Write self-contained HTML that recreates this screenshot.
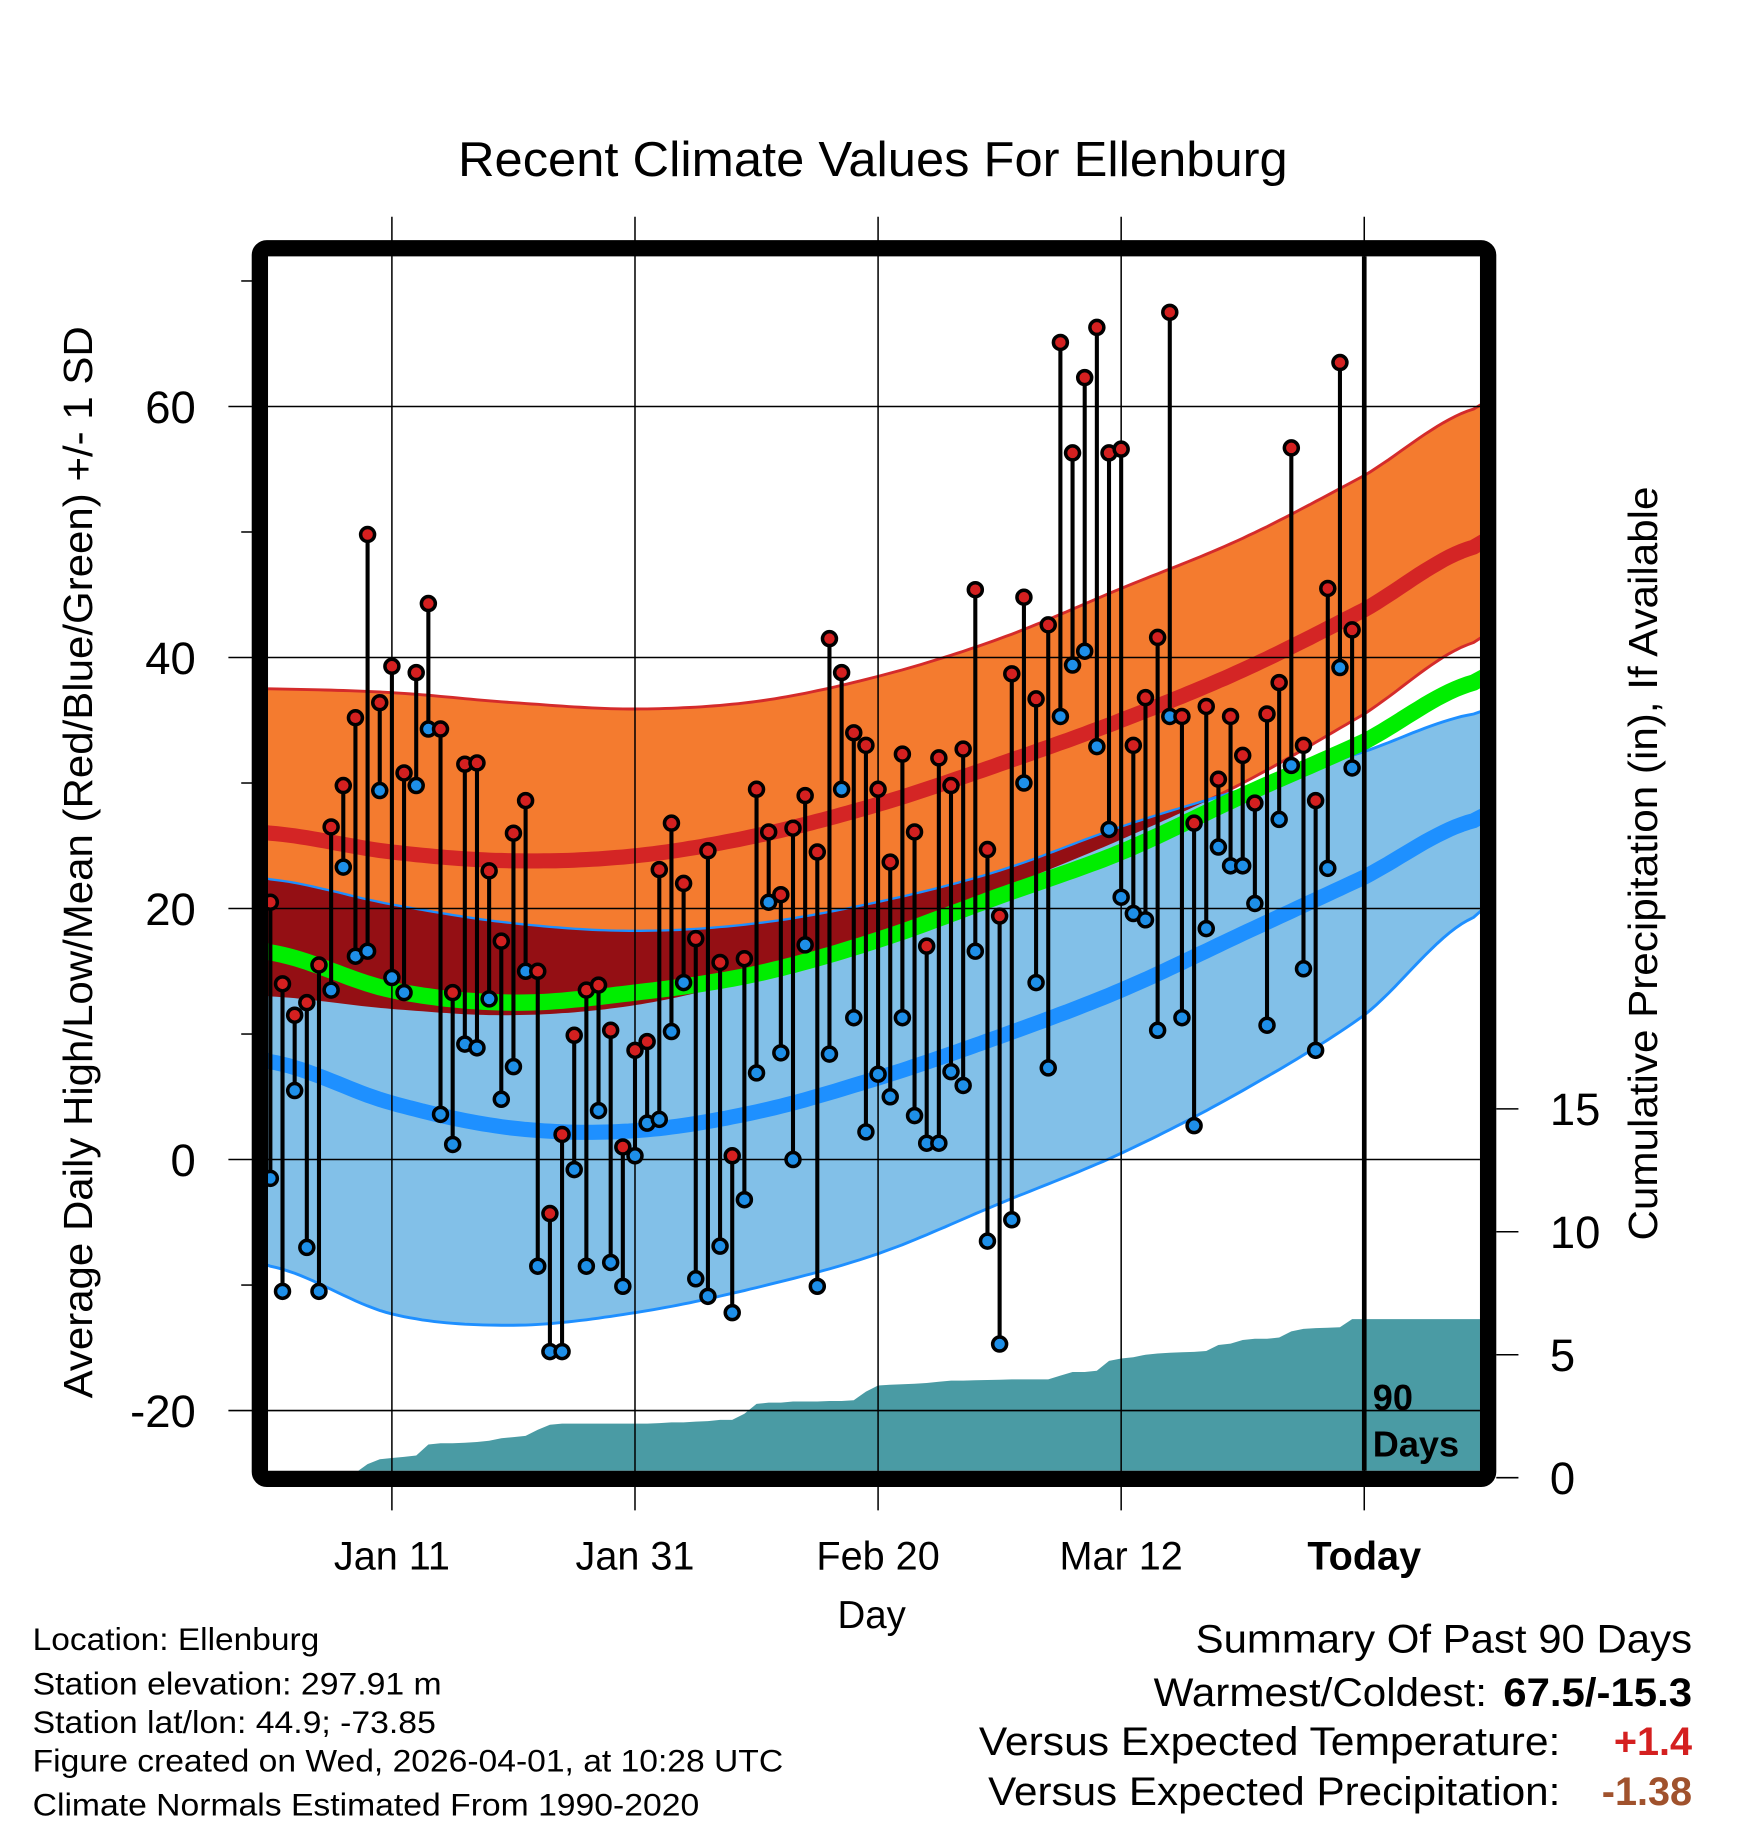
<!DOCTYPE html>
<html><head><meta charset="utf-8"><style>
html,body{margin:0;padding:0;background:#fff;}
svg{display:block;font-family:"Liberation Sans",sans-serif;}
</style></head><body>
<svg id="chart" width="1748" height="1828" viewBox="0 0 1500 1568.6" preserveAspectRatio="none" xmlns="http://www.w3.org/2000/svg">
<defs><clipPath id="plotclip"><rect x="230" y="220" width="1040" height="1042"/></clipPath></defs>
<text x="749" y="151" font-size="42" text-anchor="middle" textLength="712" lengthAdjust="spacingAndGlyphs">Recent Climate Values For Ellenburg</text>
<g id="bands" clip-path="url(#plotclip)"></g>
<g id="grid"></g>
<g id="marks"></g>
<rect x="223" y="213" width="1054" height="1056" fill="none" stroke="#000" stroke-width="14" rx="6"/>
<g id="axes"></g>
<text transform="translate(79,740) rotate(-90)" font-size="35" text-anchor="middle" textLength="920" lengthAdjust="spacingAndGlyphs">Average Daily High/Low/Mean (Red/Blue/Green) +/- 1 SD</text>
<text transform="translate(1422,741) rotate(-90)" font-size="35" text-anchor="middle" textLength="647" lengthAdjust="spacingAndGlyphs">Cumulative Precipitation (in), If Available</text>
<text x="748" y="1397" font-size="33" text-anchor="middle">Day</text>
<text font-size="31" font-weight="bold"><tspan x="1178" y="1210">90</tspan><tspan x="1178" y="1250">Days</tspan></text>
<g font-size="27">
<text x="28" y="1416" textLength="246" lengthAdjust="spacingAndGlyphs">Location: Ellenburg</text>
<text x="28" y="1454" textLength="351" lengthAdjust="spacingAndGlyphs">Station elevation: 297.91 m</text>
<text x="28" y="1487" textLength="346" lengthAdjust="spacingAndGlyphs">Station lat/lon: 44.9; -73.85</text>
<text x="28" y="1520" textLength="644" lengthAdjust="spacingAndGlyphs">Figure created on Wed, 2026-04-01, at 10:28 UTC</text>
<text x="28" y="1558" textLength="572" lengthAdjust="spacingAndGlyphs">Climate Normals Estimated From 1990-2020</text>
</g>
<g font-size="34">
<text x="1026" y="1418" textLength="426" lengthAdjust="spacingAndGlyphs">Summary Of Past 90 Days</text>
<text x="990" y="1464" textLength="286" lengthAdjust="spacingAndGlyphs">Warmest/Coldest:</text>
<text x="1290" y="1464" font-weight="bold" textLength="162" lengthAdjust="spacingAndGlyphs">67.5/-15.3</text>
<text x="840" y="1506" textLength="499" lengthAdjust="spacingAndGlyphs">Versus Expected Temperature:</text>
<text x="1452" y="1506" text-anchor="end" font-weight="bold" fill="#d42020">+1.4</text>
<text x="848" y="1549" textLength="491" lengthAdjust="spacingAndGlyphs">Versus Expected Precipitation:</text>
<text x="1452" y="1549" text-anchor="end" font-weight="bold" fill="#a0522d">-1.38</text>
</g>
</svg>
<script>
const normDays = [0,10,20,30,40,50,60,70,80,90,99];
const highTop  = [37.5,37.2,36.4,35.9,36.5,38.5,41.5,45.5,49.5,54.5,59.8];
const highMean = [26,24.5,23.8,24.2,25.8,28.3,31.5,35,39,43.8,48.8];
const highBot  = [13,12,11.5,12.3,14.5,17.5,21.5,25.5,30,35.5,41.2];
const lowTop   = [22.3,20.3,18.8,18.2,18.8,20.5,23,26.5,29.5,32.5,35.5];
const lowMean  = [7.8,4.5,2.5,2.3,3.8,6.5,9.8,13.5,18,22.5,27];
const lowBot   = [-8.5,-12.3,-13.2,-12.2,-10.2,-7.5,-3.5,0.5,5.5,11.5,19.3];
const meanLine = [16.5,13.5,12.5,13.3,14.8,17.5,21,24.5,29,33.3,38];
const highs = [20.5,14,11.5,12.5,15.5,26.5,29.8,35.2,49.8,36.4,39.3,30.8,38.8,44.3,34.3,13.3,31.5,31.6,23,17.4,26,28.6,15,-4.3,2,9.9,13.5,13.9,10.3,1,8.7,9.4,23.1,26.8,22,17.6,24.6,15.7,0.3,16,29.5,26.1,21.1,26.4,29,24.5,41.5,38.8,34,33,29.5,23.7,32.3,26.1,17,32,29.8,32.7,45.4,24.7,19.4,38.7,44.8,36.7,42.6,65.1,56.3,62.3,66.3,56.3,56.6,33,36.8,41.6,67.5,35.3,26.8,36.1,30.3,35.3,32.2,28.4,35.5,38,56.7,33,28.6,45.5,63.5,42.2];
const lows = [-1.5,-10.5,5.5,-7,-10.5,13.5,23.3,16.2,16.6,29.4,14.5,13.3,29.8,34.3,3.6,1.2,9.2,8.9,12.8,4.8,7.4,15,-8.5,-15.3,-15.3,-0.8,-8.5,3.9,-8.2,-10.1,0.3,2.9,3.2,10.2,14.1,-9.5,-10.9,-6.9,-12.2,-3.2,6.9,20.5,8.5,0,17.1,-10.1,8.4,29.5,11.3,2.2,6.8,5,11.3,3.5,1.3,1.3,7,5.9,16.6,-6.5,-14.7,-4.8,30,14.1,7.3,35.3,39.4,40.5,32.9,26.3,20.9,19.6,19.1,10.3,35.3,11.3,2.7,18.4,24.9,23.4,23.4,20.4,10.7,27.1,31.4,15.2,8.7,23.2,39.2,31.2];
const precip = [0,0,0,0,0,0,0,0.2,0.55,0.75,0.8,0.85,0.9,1.35,1.4,1.4,1.42,1.45,1.5,1.6,1.65,1.7,1.95,2.15,2.2,2.2,2.2,2.2,2.2,2.2,2.2,2.2,2.22,2.25,2.25,2.28,2.3,2.35,2.35,2.6,3.0,3.05,3.05,3.1,3.1,3.1,3.12,3.12,3.15,3.5,3.75,3.78,3.8,3.82,3.85,3.9,3.95,3.95,3.96,3.97,3.98,4.0,4.0,4.0,4.0,4.15,4.3,4.3,4.35,4.75,4.85,4.9,5.0,5.05,5.08,5.1,5.12,5.15,5.4,5.45,5.6,5.65,5.65,5.7,5.95,6.05,6.08,6.1,6.12,6.45];
const xTickDays = [10,30,50,70,90];
const xTickLabels = ["Jan 11","Jan 31","Feb 20","Mar 12","Today"];
const yTicks = [60,40,20,0,-20];
const yMinor = [70,50,30,10,-10];
const pTicks = [0,5,10,15];

const NS="http://www.w3.org/2000/svg";
const X = d => 232 + d*10.43;
const Y = t => 995 - t*10.77;
const P = p => 1268 - p*21.1;
function mk(tag, attrs, parent){const e=document.createElementNS(NS,tag);for(const k in attrs)e.setAttribute(k,attrs[k]);parent.appendChild(e);return e;}
function interp(arr){
  const n=normDays.length, pts=[];
  for(let d=-1;d<=100;d+=0.5){
    let i=0; while(i<n-2&&d>normDays[i+1])i++;
    const t=(d-normDays[i])/(normDays[i+1]-normDays[i]);
    const p0=arr[Math.max(i-1,0)],p1=arr[i],p2=arr[i+1],p3=arr[Math.min(i+2,n-1)];
    let v;
    if(t<0||t>1){v=p1+(p2-p1)*t;}
    else{const t2=t*t,t3=t2*t;v=0.5*((2*p1)+(-p0+p2)*t+(2*p0-5*p1+4*p2-p3)*t2+(-p0+3*p1-3*p2+p3)*t3);}
    pts.push([d,v]);
  }
  return pts;
}
function line(arr){return interp(arr).map((p,i)=>(i?'L':'M')+X(p[0]).toFixed(1)+','+Y(p[1]).toFixed(1)).join('');}
function band(top,bot){const a=interp(top),b=interp(bot).reverse();return a.map((p,i)=>(i?'L':'M')+X(p[0]).toFixed(1)+','+Y(p[1]).toFixed(1)).join('')+b.map(p=>'L'+X(p[0]).toFixed(1)+','+Y(p[1]).toFixed(1)).join('')+'Z';}
const bands=document.getElementById('bands');
let e;
e=mk('path',{d:band(highTop,highBot),fill:'#f47b2f',stroke:'#d42b2b','stroke-width':2.5},bands);


e=mk('path',{d:band(lowTop,lowBot),fill:'#82c0e8',stroke:'#1e8fff','stroke-width':2.5},bands);


const cp=mk('clipPath',{id:'hiclip'},bands);mk('path',{d:band(highTop,highBot)},cp);
e=mk('path',{d:band(lowTop,lowBot),fill:'#940f14','clip-path':'url(#hiclip)'},bands);


e=mk('path',{d:line(lowTop),fill:'none',stroke:'#1e8fff','stroke-width':1.5},bands);


e=mk('path',{d:line(highMean),fill:'none',stroke:'#d42525','stroke-width':13},bands);


e=mk('path',{d:line(lowMean),fill:'none',stroke:'#1e90ff','stroke-width':13},bands);


e=mk('path',{d:line(meanLine),fill:'none',stroke:'#00ee00','stroke-width':14},bands);


let pd='M'+X(0)+','+P(0);
precip.forEach((v,i)=>{pd+='L'+X(i).toFixed(1)+','+P(v).toFixed(1);});
pd+='L1275,'+P(precip[precip.length-1]).toFixed(1)+'L1275,1268Z';
e=mk('path',{d:pd,fill:'#4a9ba4'},bands);


const grid=document.getElementById('grid');
xTickDays.forEach(d=>{e=mk('line',{x1:X(d),x2:X(d),y1:186,y2:1296,stroke:'#000','stroke-width':1.3},grid);

});
yTicks.forEach(t=>{e=mk('line',{x1:196,x2:1270,y1:Y(t),y2:Y(t),stroke:'#000','stroke-width':1.3},grid);

});
yMinor.forEach(t=>{e=mk('line',{x1:207,x2:220,y1:Y(t),y2:Y(t),stroke:'#000','stroke-width':1.3},grid);

});
e=mk('line',{x1:X(90),x2:X(90),y1:220,y2:1262,stroke:'#000','stroke-width':4},grid);


const marks=document.getElementById('marks');
highs.forEach((h,i)=>{
  e=mk('line',{x1:X(i),x2:X(i),y1:Y(h),y2:Y(lows[i]),stroke:'#000','stroke-width':3.5},marks);
  
  
});
highs.forEach((h,i)=>{
  e=mk('circle',{cx:X(i),cy:Y(lows[i]),r:6,fill:'#1e8fe8',stroke:'#000','stroke-width':3},marks);
  
  
  e=mk('circle',{cx:X(i),cy:Y(h),r:6,fill:'#d42020',stroke:'#000','stroke-width':3},marks);
  
  
});
const axes=document.getElementById('axes');
yTicks.forEach(t=>{e=mk('text',{x:168,y:Y(t)+14,'font-size':39,'text-anchor':'end'},axes);e.textContent=String(t);

});
xTickDays.forEach((d,i)=>{e=mk('text',{x:X(d),y:1347,'font-size':34,'text-anchor':'middle'},axes);e.textContent=xTickLabels[i];
if(i===4)e.setAttribute('font-weight','bold');

});
pTicks.forEach(p=>{e=mk('line',{x1:1284,x2:1303,y1:P(p),y2:P(p),stroke:'#000','stroke-width':1.3},axes);


e=mk('text',{x:1330,y:P(p)+14,'font-size':39},axes);e.textContent=String(p);

});
</script>
</body></html>
